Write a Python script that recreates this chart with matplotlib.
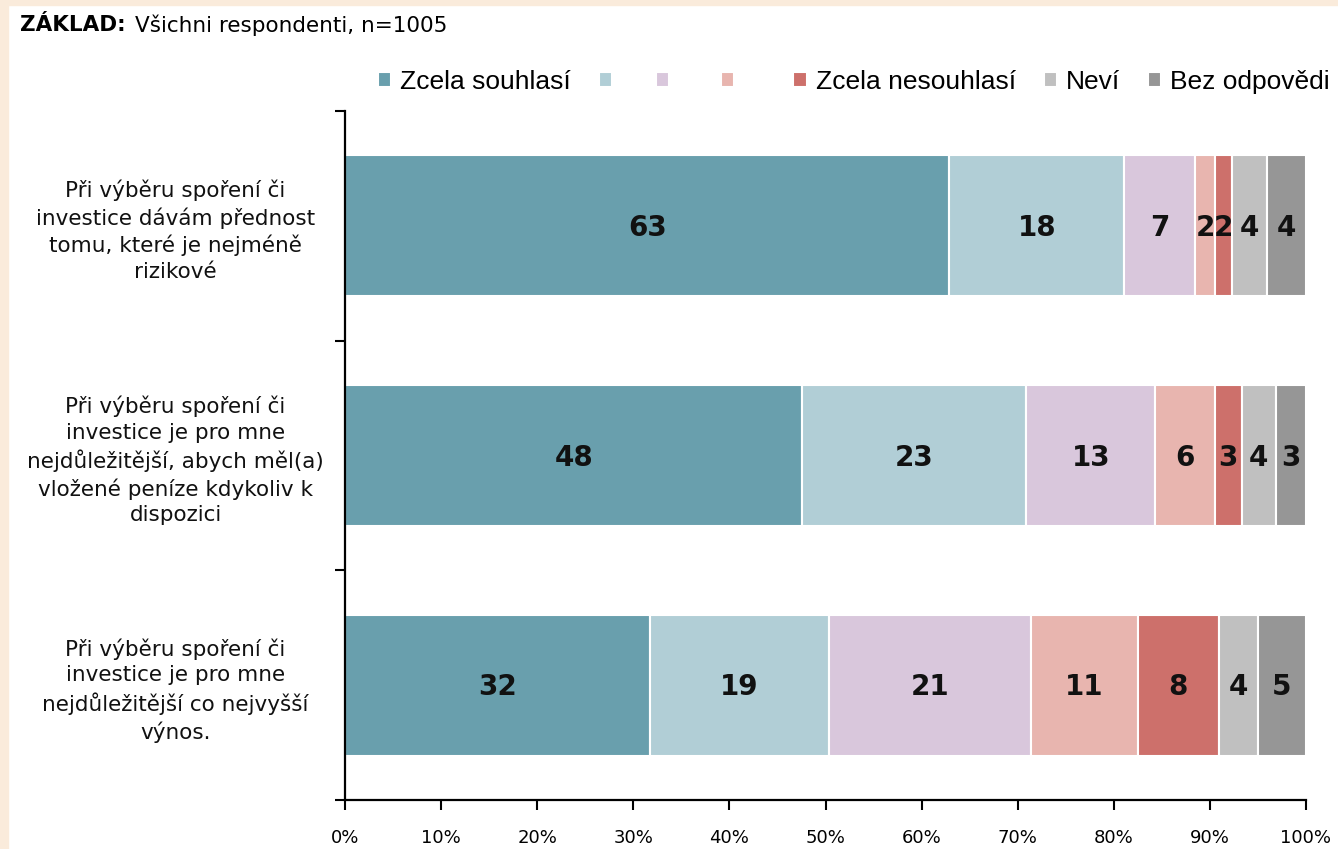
import matplotlib
matplotlib.use("Agg")
import matplotlib.pyplot as plt
import numpy as np

plt.rcParams["font.family"] = ["DejaVu Sans"]

categories = [
    "Při výběru spoření či\ninvestice dávám přednost\ntomu, které je nejméně\nrizikové",
    "Při výběru spoření či\ninvestice je pro mne\nnejdůležitější, abych měl(a)\nvložené peníze kdykoliv k\ndispozici",
    "Při výběru spoření či\ninvestice je pro mne\nnejdůležitější co nejvyšší\nvýnos.",
]
series_names = ["Zcela souhlasí", " ", "  ", "   ", "Zcela nesouhlasí", "Neví", "Bez odpovědi"]
values = [
    [62.9, 47.6, 31.7],
    [18.2, 23.3, 18.7],
    [7.4, 13.4, 21.0],
    [2.0, 6.2, 11.1],
    [1.8, 2.8, 8.4],
    [3.6, 3.6, 4.1],
    [4.1, 3.1, 5.0],
]
labels = [
    [63, 48, 32],
    [18, 23, 19],
    [7, 13, 21],
    [2, 6, 11],
    [2, 3, 8],
    [4, 4, 4],
    [4, 3, 5],
]
colors = ["#699FAD", "#B1CED6", "#D9C7DC", "#E8B5AF", "#CD706B", "#C0C0C0", "#969696"]
xticks = list(range(0, 101, 10))
xticklabels = [f"{t}%" for t in xticks]

fig = plt.figure(figsize=(13.38, 8.49), dpi=100)
fig.patch.set_facecolor("white")
# beige frame
fig.patches.append(plt.Rectangle((0, 1 - 5 / 849), 1, 5 / 849, transform=fig.transFigure,
                                 color="#FAEBDB", zorder=0))
fig.patches.append(plt.Rectangle((0, 0), 8 / 1338, 1, transform=fig.transFigure,
                                 color="#FAEBDB", zorder=0))

ax = fig.add_axes([345 / 1338, 1 - 800 / 849, (1306 - 345) / 1338, (800 - 111) / 849])
y = np.arange(len(categories))
left = np.zeros(len(categories))
for i, (name, vals, labs, c) in enumerate(zip(series_names, values, labels, colors)):
    vals = np.array(vals)
    ax.barh(y, vals, left=left, height=0.615, color=c, edgecolor="white",
            linewidth=1.5, label=name)
    for j in range(len(categories)):
        ax.text(left[j] + vals[j] / 2, y[j] + 0.01, str(labs[j]), ha="center", va="center",
                fontsize=20, fontweight="bold", color="#111111")
    left += vals

ax.set_xlim(0, 100)
ax.set_ylim(2.5, -0.5)
ax.set_xticks(xticks)
ax.set_xticklabels(xticklabels, fontsize=13)
ax.set_yticks(y)
ax.set_yticklabels(categories, fontsize=15.5, linespacing=1.36,
                   ha="center", color="#111111")
ax.tick_params(axis="y", length=0, pad=122)
ax.set_yticks([-0.5, 0.5, 1.5, 2.5], minor=True)
ax.tick_params(axis="y", which="minor", length=7, width=1.5)
ax.tick_params(axis="x", length=7, width=1.5, pad=14)
for s in ["top", "right"]:
    ax.spines[s].set_visible(False)
for s in ["left", "bottom"]:
    ax.spines[s].set_linewidth(1.6)

leg = fig.legend(*ax.get_legend_handles_labels(), loc="center right",
                 bbox_to_anchor=(1.002, 1 - 82 / 849), ncol=7, frameon=False,
                 handlelength=0.5, handleheight=0.5, handletextpad=0.35,
                 columnspacing=1.05, borderaxespad=0.0,
                 prop={"family": "Liberation Sans", "size": 19})

fig.text(20 / 1338, 1 - 25 / 849, "ZÁKLAD:", fontsize=15.5, fontweight="bold",
         va="center", ha="left")
fig.text(135 / 1338, 1 - 25 / 849, "Všichni respondenti, n=1005", fontsize=15.5,
         va="center", ha="left")

fig.savefig("out.png", dpi=100)
